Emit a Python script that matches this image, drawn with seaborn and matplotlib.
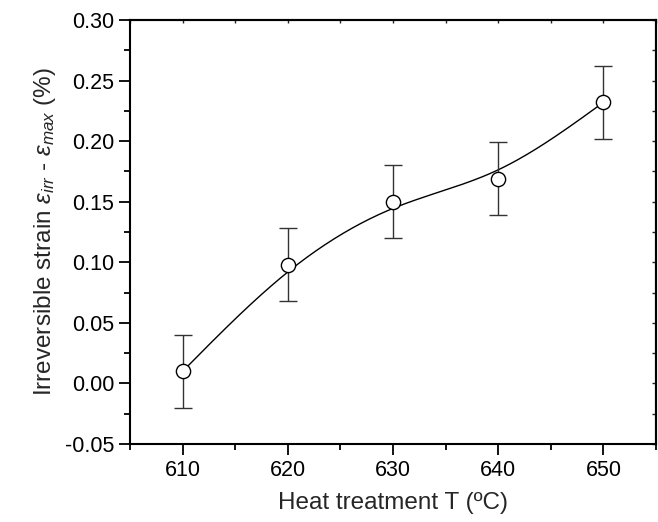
import numpy as np
import pandas as pd
import matplotlib
matplotlib.use("Agg")
import matplotlib.pyplot as plt
from matplotlib.ticker import MultipleLocator, FormatStrFormatter, NullFormatter
import seaborn as sns

# Data
temperature = [610, 620, 630, 640, 650]
strain = [0.010, 0.098, 0.150, 0.169, 0.232]
strain_err = [0.030, 0.030, 0.030, 0.030, 0.030]

sns.set_style("ticks")
plt.rcParams["font.family"] = ["Liberation Sans", "DejaVu Sans"]
plt.rcParams["mathtext.fontset"] = "custom"
plt.rcParams["mathtext.rm"] = "Liberation Sans"
plt.rcParams["mathtext.it"] = "Liberation Sans:italic"
plt.rcParams["axes.unicode_minus"] = False

df = pd.DataFrame({"T": temperature, "strain": strain, "err": strain_err})

# Smooth B-spline using the data as control points (ends clamped)
def bspline(xs, ys, n=60):
    xs = np.asarray(xs, float); ys = np.asarray(ys, float)
    qx = np.concatenate([[2 * xs[0] - xs[1]], xs, [2 * xs[-1] - xs[-2]]])
    qy = np.concatenate([[2 * ys[0] - ys[1]], ys, [2 * ys[-1] - ys[-2]]])
    t = np.linspace(0, 1, n)
    b0 = (1 - t) ** 3 / 6
    b1 = (3 * t ** 3 - 6 * t ** 2 + 4) / 6
    b2 = (-3 * t ** 3 + 3 * t ** 2 + 3 * t + 1) / 6
    b3 = t ** 3 / 6
    ox, oy = [], []
    for j in range(len(qx) - 3):
        ox.append(b0 * qx[j] + b1 * qx[j + 1] + b2 * qx[j + 2] + b3 * qx[j + 3])
        oy.append(b0 * qy[j] + b1 * qy[j + 1] + b2 * qy[j + 2] + b3 * qy[j + 3])
    return np.concatenate(ox), np.concatenate(oy)

cx, cy = bspline(temperature, strain)
curve = pd.DataFrame({"T": cx, "strain": cy})

fig = plt.figure(figsize=(6.58, 5.22), dpi=100)
ax = fig.add_axes([0.1976, 0.1494, 0.7994, 0.8123])

sns.lineplot(data=curve, x="T", y="strain", ax=ax, color="black", lw=1.0,
             sort=False, estimator=None, zorder=2)
ax.errorbar(df["T"], df["strain"], yerr=df["err"], fmt="none",
            ecolor="#333333", elinewidth=1.0, capsize=6.5, capthick=1.0, zorder=3)
sns.scatterplot(data=df, x="T", y="strain", ax=ax, marker="o", s=105,
                facecolor="white", edgecolor="black", linewidth=1.0, zorder=4)

ax.set_xlim(605, 655)
ax.set_ylim(-0.05, 0.30)
ax.xaxis.set_major_locator(MultipleLocator(10))
ax.xaxis.set_minor_locator(MultipleLocator(5))
ax.yaxis.set_major_locator(MultipleLocator(0.05))
ax.yaxis.set_minor_locator(MultipleLocator(0.025))
ax.yaxis.set_major_formatter(FormatStrFormatter("%.2f"))

ax.tick_params(which="major", direction="out", length=8, width=1.3,
               labelsize=15.5, color="black", labelcolor="black")
ax.tick_params(which="minor", direction="out", length=4.5, width=1.3, color="black")
for s in ax.spines.values():
    s.set_linewidth(1.5)
    s.set_color("black")

# inward ticks on top and right (no labels)
sx = ax.secondary_xaxis("top")
sx.xaxis.set_major_locator(MultipleLocator(5))
sx.xaxis.set_major_formatter(NullFormatter())
sx.tick_params(direction="in", length=2.5, width=1.0)
sx.spines["top"].set_linewidth(1.5)
sy = ax.secondary_yaxis("right")
sy.yaxis.set_major_locator(MultipleLocator(0.025))
sy.yaxis.set_major_formatter(NullFormatter())
sy.tick_params(direction="in", length=3, width=1.0)
sy.spines["right"].set_linewidth(1.5)

ax.set_xlabel("Heat treatment T (ºC)", fontsize=17.5, labelpad=8)
ax.set_ylabel(r"Irreversible strain $\mathit{ε}_{\mathit{irr}}$ - $\mathit{ε}_{\mathit{max}}$ (%)",
              fontsize=17.5, labelpad=5)

fig.savefig("out.png", dpi=100)
